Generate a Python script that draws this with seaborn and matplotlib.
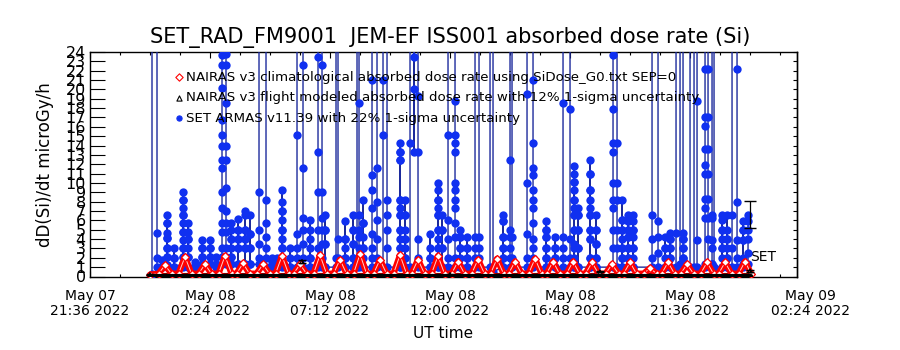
import numpy as np
import pandas as pd
import matplotlib
matplotlib.use("Agg")
import matplotlib.pyplot as plt
import seaborn as sns

# ---------------- data (hours since 2022-05-07 00:00 UT) ----------------
tick_hours = [21.6, 26.4, 31.2, 36.0, 40.8, 45.6, 50.4]
tick_labels = ["May 07\n21:36 2022", "May 08\n02:24 2022", "May 08\n07:12 2022",
               "May 08\n12:00 2022", "May 08\n16:48 2022", "May 08\n21:36 2022",
               "May 09\n02:24 2022"]
y_ticks = list(range(0, 25))

# SET ARMAS samples, grouped by time stamp (values visited in order; >24 = off scale)
blue_col_t = [24.08, 24.28, 24.48, 24.68, 24.96, 25.32, 25.52, 25.80, 26.08, 26.40,
              26.64, 26.88, 27.04, 27.24, 27.52, 27.80, 28.00, 28.36, 28.64, 28.88,
              29.08, 29.28, 29.60, 29.88, 30.12, 30.40, 30.72, 30.88, 31.00, 31.44,
              31.52, 31.80, 32.12, 32.28, 32.36, 32.52, 32.88, 33.08, 33.32, 33.48,
              34.00, 34.20, 34.40, 34.56, 34.72, 35.20, 35.52, 35.68, 35.92, 36.20,
              36.40, 36.68, 37.00, 37.16, 37.60, 37.72, 38.12, 38.40, 38.48, 39.08,
              39.32, 39.84, 40.20, 40.52, 40.80, 40.96, 41.12, 41.60, 41.84, 42.52,
              42.68, 42.88, 43.12, 43.32, 44.08, 44.32, 44.60, 44.80, 45.04, 45.20,
              45.32, 45.60, 45.76, 45.88, 46.20, 46.32, 46.48, 46.56, 46.88, 47.08,
              47.28, 47.48, 47.72, 47.92]
blue_col_v = [
    [0.3, 30], [30, 4.6, 2.0, 1.0], [1.0, 1.8, 1.0],
    [1.2, 2.1, 3.0, 4.1, 4.6, 5.7, 6.6, 5.7, 4.1, 3.0, 2.1, 1.2],
    [1.0, 2.0, 3.0, 2.0, 1.0],
    [1.4, 2.1, 3.0, 3.9, 4.8, 5.7, 6.6, 7.3, 8.2, 9.0, 8.2, 6.6, 4.8, 3.0, 2.1, 1.0],
    [1.0, 2.1, 3.0, 4.0, 4.8, 5.7, 4.0, 2.1, 1.0], [1.0, 1.5, 1.0],
    [1.3, 2.1, 3.0, 3.9, 3.0, 2.1, 1.3], [1.3, 2.1, 3.0, 3.9, 3.0, 2.1, 1.3],
    [1.0, 1.3, 2.1, 1.0],
    [1.3, 2.1, 3.0, 4.8, 5.7, 7.3, 9.0, 11.6, 12.5, 14.0, 15.1, 16.7, 20.2, 22.6, 23.7, 30],
    [30, 23.8, 22.6, 18.5, 14.0, 12.5, 9.5, 7.0, 5.7, 4.8, 3.0, 2.1, 1.3],
    [1.3, 2.1, 3.0, 4.0, 5.0, 5.7, 4.0, 2.1, 1.3],
    [1.3, 3.0, 4.0, 5.0, 6.2, 5.0, 4.0, 3.0, 1.3],
    [1.3, 3.0, 4.0, 5.0, 6.6, 7.0, 5.0, 4.0, 3.0, 1.3],
    [1.3, 3.0, 4.5, 6.6, 4.5, 3.0, 1.3],
    [1.3, 2.0, 3.5, 5.0, 9.0, 30], [30, 8.2, 5.7, 4.2, 3.0, 2.0, 1.0],
    [1.0, 1.6, 2.0, 1.0], [1.0, 2.0, 1.2],
    [1.0, 2.0, 3.0, 4.0, 5.0, 6.0, 7.0, 8.0, 9.2, 7.0, 5.0, 3.0, 1.3],
    [1.0, 2.0, 3.0, 1.0],
    [1.0, 2.0, 3.0, 4.5, 15.1, 30], [30, 22.6, 11.6, 6.3, 5.0, 3.5, 2.0, 1.0],
    [1.0, 2.0, 3.0, 5.0, 6.0, 4.0, 2.0, 1.0],
    [1.0, 3.0, 5.0, 9.0, 13.3, 23.5, 30], [30, 22.6, 9.0, 6.3, 5.0, 3.5, 2.0, 1.0],
    [1.0, 3.5, 5.0, 6.6, 5.0, 3.5, 1.0],
    [1.0, 2.0, 30], [30, 4.0, 2.0, 1.0],
    [1.0, 2.0, 3.0, 4.0, 5.9, 4.0, 2.0, 1.0],
    [1.0, 2.0, 3.5, 5.0, 6.6, 5.0, 3.5, 2.0, 1.0],
    [1.0, 30], [30, 18.5, 6.6, 5.0, 4.2, 3.0, 2.0, 1.0],
    [1.0, 2.0, 3.0, 4.2, 5.7, 8.2, 5.7, 3.0, 1.0],
    [1.0, 2.0, 3.0, 4.5, 7.3, 9.2, 10.8, 21.0, 30], [30, 11.6, 8.0, 6.0, 4.0, 2.0, 1.0],
    [1.0, 15.1, 21.0, 30], [30, 8.2, 6.6, 5.0, 3.0, 1.0],
    [1.0, 2.0, 3.0, 4.0, 5.0, 6.6, 7.3, 8.2, 12.5, 13.3, 14.3, 13.3, 12.5, 8.2, 6.6, 5.0, 3.0, 1.0],
    [1.0, 2.0, 3.0, 4.0, 5.0, 6.6, 8.2, 6.6, 4.0, 2.0, 1.0],
    [1.0, 14.3, 30], [30, 23.5, 20.0, 13.3, 30], [30, 19.3, 13.3, 4.0, 2.0, 1.0],
    [1.0, 2.0, 3.0, 4.5, 2.0, 1.0],
    [1.0, 2.0, 3.0, 4.0, 5.0, 6.6, 7.3, 8.2, 9.2, 10.0, 8.2, 6.6, 5.0, 3.0, 1.0],
    [1.0, 3.0, 5.0, 6.6, 5.0, 3.0, 1.0],
    [1.0, 2.0, 4.0, 6.0, 15.1, 30],
    [30, 18.8, 15.1, 14.3, 13.3, 10.0, 9.2, 8.2, 7.3, 5.7, 4.2, 2.0, 1.0],
    [1.0, 2.0, 3.0, 4.2, 5.0, 4.2, 3.0, 1.0], [1.0, 2.0, 3.0, 4.2, 3.0, 2.0, 1.0],
    [1.0, 2.0, 3.0, 4.2, 30], [30, 4.2, 3.0, 2.0, 1.0],
    [1.0, 30], [30, 0.5],
    [1.0, 2.0, 3.0, 4.2, 5.9, 6.6, 5.9, 4.2, 3.0, 2.0, 1.0],
    [1.0, 2.0, 3.0, 4.2, 5.0, 12.5, 30], [30, 4.2, 2.0, 1.0],
    [1.0, 2.0, 4.5, 10.0, 19.5, 30],
    [30, 21.0, 14.3, 11.6, 10.8, 9.2, 8.2, 7.3, 5.7, 4.0, 3.0, 2.0, 1.0],
    [1.0, 2.0, 3.0, 4.2, 5.0, 5.9, 5.0, 4.2, 3.0, 2.0, 1.0],
    [1.0, 2.0, 3.0, 4.2, 3.0, 2.0, 1.0],
    [1.0, 2.0, 3.0, 4.2, 18.5, 30], [30, 17.9, 4.0, 2.0, 1.0],
    [1.0, 2.0, 3.5, 5.0, 6.6, 7.3, 8.2, 9.2, 10.1, 11.0, 11.8, 10.1, 8.2, 6.6, 5.0, 3.0, 1.0],
    [1.0, 3.0, 5.0, 6.6, 7.3, 6.6, 5.0, 3.0, 1.0],
    [1.0, 2.0, 4.0, 5.0, 6.6, 7.3, 8.2, 9.2, 11.0, 12.5, 11.0, 9.2, 6.6, 5.0, 4.0, 2.0, 1.0],
    [1.0, 2.0, 3.5, 5.0, 6.6, 5.0, 3.5, 2.0, 1.0],
    [1.0, 3.0, 5.0, 7.3, 8.2, 10.0, 13.3, 14.3, 17.9, 23.7, 30],
    [30, 14.3, 10.0, 8.2, 5.0, 3.0, 1.0],
    [1.0, 2.0, 3.0, 4.0, 5.0, 6.0, 8.2, 6.0, 5.0, 3.0, 2.0, 1.0],
    [1.0, 2.0, 3.0, 4.2, 5.0, 5.9, 6.6, 5.9, 5.0, 4.2, 3.0, 2.0, 1.0],
    [1.0, 2.0, 3.0, 4.2, 5.0, 5.9, 6.6, 5.0, 3.0, 1.0],
    [1.0, 2.0, 4.0, 6.6, 30], [30, 5.9, 4.2, 2.5, 1.0],
    [1.0, 2.0, 3.0, 4.2, 3.0, 1.0],
    [1.0, 2.0, 3.0, 4.0, 4.6, 4.0, 3.0, 2.0, 1.0],
    [1.0, 4.6, 30], [30, 1.3],
    [1.3, 2.0, 3.0, 4.0, 4.6, 4.0, 3.0, 2.0, 30], [30, 1.0],
    [1.0, 30], [30, 18.8, 3.9, 1.0],
    [1.0, 1.3, 6.3, 7.3, 8.3, 11.0, 11.9, 13.6, 16.1, 17.0, 22.2, 30],
    [30, 22.2, 17.0, 13.6, 11.0, 8.3, 6.3, 4.0, 1.3],
    [1.3, 3.0, 6.6, 6.3, 3.9, 1.3, 30], [30, 1.0],
    [1.0, 2.0, 3.0, 4.0, 5.0, 6.0, 6.6, 5.0, 3.0, 1.0],
    [1.0, 2.0, 3.0, 4.0, 5.0, 6.6, 4.0, 2.0, 1.0],
    [1.0, 3.0, 6.6, 30], [30, 22.2, 8.0, 3.9, 2.0, 1.0],
    [1.0, 2.0, 3.9, 5.0, 5.9, 5.0, 3.9, 1.3],
    [1.3, 2.5, 4.0, 5.0, 5.9, 6.6],
]
set_err_frac = 0.22

# NAIRAS climatological (red diamonds)
red_t = [24.00,
         24.34, 24.60, 24.86, 25.14, 25.40, 25.66, 25.94, 26.20, 26.46, 26.74, 27.00, 27.26,
         27.46, 27.72, 27.98, 28.26, 28.52, 28.78, 29.02, 29.28, 29.54, 29.74, 30.00, 30.26,
         30.54, 30.80, 31.06, 31.34, 31.60, 31.86, 32.14, 32.40, 32.66, 32.94, 33.20, 33.46,
         33.74, 34.00, 34.26, 34.46, 34.72, 34.98, 35.26, 35.52, 35.78, 36.06, 36.32, 36.58,
         36.86, 37.12, 37.38, 37.62, 37.88, 38.14, 38.34, 38.60, 38.86, 39.14, 39.40, 39.66,
         39.86, 40.12, 40.38, 40.66, 40.92, 41.18, 41.42, 41.68, 41.94, 42.22, 42.48, 42.74,
         42.94, 43.20, 43.46, 43.74, 44.00, 44.26, 44.46, 44.72, 44.98, 45.22, 45.48, 45.74,
         46.02, 46.28, 46.54, 46.74, 47.00, 47.26, 47.54, 47.80, 48.04]
red_v = [0.2,
         0.3, 1.2, 0.3, 0.3, 2.1, 0.3, 0.3, 1.3, 0.3, 0.3, 2.2, 0.3,
         0.3, 1.4, 0.3, 0.3, 1.3, 0.3, 0.3, 2.2, 0.3, 0.3, 1.3, 0.3,
         0.3, 2.3, 0.3, 0.3, 1.8, 0.3, 0.3, 2.4, 0.3, 0.3, 1.8, 0.3,
         0.3, 2.3, 0.3, 0.3, 1.8, 0.3, 0.3, 2.2, 0.3, 0.3, 1.6, 0.3,
         0.3, 1.8, 0.3, 0.3, 1.9, 0.3, 0.3, 1.6, 0.3, 0.3, 1.9, 0.3,
         0.3, 1.6, 0.3, 0.3, 1.6, 0.3, 0.3, 1.5, 0.3, 0.3, 1.3, 0.3,
         0.3, 1.5, 0.3, 0.3, 0.9, 0.3, 0.3, 1.5, 0.3, 0.3, 1.3, 0.3,
         0.3, 1.5, 0.3, 0.3, 1.5, 0.3, 0.3, 1.6, 0.3]

# NAIRAS flight modeled (black triangles) with 12% uncertainty
flight_t = [24.00, 30.08, 36.00, 42.00, 48.00]
flight_v = [0.2, 1.6, 0.2, 0.5, 0.6]
flight_base_t = [24.00, 48.05]
flight_base_v = [0.05, 0.05]
flight_err_frac = 0.12

# ---------------- build tables ----------------
bt, bv = [], []
for t, vals in zip(blue_col_t, blue_col_v):
    for v in vals:
        bt.append(t)
        bv.append(v)
blue = pd.DataFrame({"t": bt, "v": bv})
red = pd.DataFrame({"t": red_t, "v": red_v})
flight = pd.DataFrame({"t": flight_t, "v": flight_v})
base = pd.DataFrame({"t": flight_base_t, "v": flight_base_v})

# ---------------- figure ----------------
sns.set_theme(style="white")
plt.rcParams["font.family"] = ["Liberation Sans Narrow", "DejaVu Sans"]
plt.rcParams["axes.linewidth"] = 1.0
for k in ["text.color", "axes.labelcolor", "xtick.color", "ytick.color"]:
    plt.rcParams[k] = "black"

fig = plt.figure(figsize=(9, 3.5), dpi=100)
ax = fig.add_axes([0.1, 0.21, 0.7856, 0.6414])

LINE_BLUE = "#1c2a9c"
MARK_BLUE = "#1030f0"

sns.lineplot(data=blue, x="t", y="v", sort=False, estimator=None, color=LINE_BLUE,
             lw=1.0, ax=ax, zorder=3)
sns.scatterplot(data=blue, x="t", y="v", color=MARK_BLUE, s=36, marker="o",
                edgecolor=MARK_BLUE, linewidth=0, ax=ax, zorder=4)

ax.plot(base["t"], base["v"] + 0.2, color="#8b0000", lw=1.5, zorder=5)
sns.lineplot(data=red, x="t", y="v", sort=False, estimator=None, color="#ff0000",
             lw=4.5, ax=ax, zorder=5)
sns.lineplot(data=red, x="t", y="v", sort=False, estimator=None, color="#ffd0d0",
             lw=0.7, ax=ax, zorder=6)
sns.scatterplot(data=red, x="t", y="v", marker="D", s=16, facecolor="white",
                edgecolor="#ff0000", linewidth=0.9, ax=ax, zorder=6)

sns.lineplot(data=base, x="t", y="v", sort=False, estimator=None, color="black",
             lw=3.0, ax=ax, zorder=7)
ax.errorbar(flight["t"], flight["v"], yerr=flight["v"] * flight_err_frac, fmt="none",
            ecolor="black", elinewidth=0.9, capsize=3, zorder=8)
sns.scatterplot(data=flight, x="t", y="v", marker="^", s=10, facecolor="none",
                edgecolor="black", linewidth=0.7, ax=ax, zorder=8)

# SET uncertainty on the last sample
last_t, last_v = blue_col_t[-1], blue_col_v[-1][-1]
ax.errorbar([last_t + 0.08], [last_v], yerr=[last_v * set_err_frac], fmt="none",
            ecolor="black", elinewidth=0.9, capsize=4, zorder=8)
ax.text(last_t + 0.1, 2.1, "SET", fontsize=10, ha="left", va="center", color="black")

# axes
ax.set_xlim(21.6, 21.6 + 707 / 25)
ax.set_ylim(0, 24)
ax.set_xticks(tick_hours[:-1])
ax.set_xticklabels(tick_labels[:-1], fontsize=10, linespacing=1.05)
ax.set_xticks(np.arange(21.6, 49.9, 1.2), minor=True)
ax.tick_params(axis="x", which="major", direction="in", length=4.5, width=0.8,
               top=True, bottom=True, pad=9)
ax.tick_params(axis="x", which="minor", direction="in", length=2.5, width=0.8,
               top=True, bottom=True)
ax.annotate(tick_labels[-1], xy=(tick_hours[-1], 0), xycoords=("data", "axes fraction"),
            xytext=(0, -9), textcoords="offset points", ha="center", va="top",
            fontsize=10, linespacing=1.05, annotation_clip=False)

ax.set_yticks(y_ticks)
ax.set_yticklabels([str(v) for v in y_ticks], fontsize=11.5)
ax.tick_params(axis="y", which="major", direction="in", length=10.8, width=0.8,
               left=True, right=False, pad=3)
sec = ax.secondary_yaxis("right")
sec.set_yticks(y_ticks)
sec.set_yticklabels([])
sec.tick_params(direction="in", length=3, width=0.8)

for s in ax.spines.values():
    s.set_color("black")
    s.set_linewidth(1.0)
ax.grid(False)

ax.set_xlabel("UT time", fontsize=11, labelpad=6)
ax.set_ylabel("dD(Si)/dt microGy/h", fontsize=12, labelpad=8)

fig.text(0.5, (350 - 38) / 350, "SET_RAD_FM9001  JEM-EF ISS001 absorbed dose rate (Si)",
         ha="center", va="center", fontsize=15)

# legend written in the plot area
leg_items = [("D", "white", "#ff0000",
              "NAIRAS v3 climatological absorbed dose rate using SiDose_G0.txt SEP=0"),
             ("^", "white", "black",
              "NAIRAS v3 flight modeled absorbed dose rate with 12% 1-sigma uncertainty"),
             ("o", MARK_BLUE, MARK_BLUE,
              "SET ARMAS v11.39 with 22% 1-sigma uncertainty")]
for i, (mk, fc, ec, txt) in enumerate(leg_items):
    yy = 1 - (77 + 20.5 * i - 52) / 224.5
    ax.scatter([(179 - 90) / 707], [yy], marker=mk, s=14, facecolor=fc, edgecolor=ec,
               linewidth=0.8, transform=ax.transAxes, zorder=10, clip_on=False)
    ax.text((186 - 90) / 707, yy, txt, transform=ax.transAxes, fontsize=9.6,
            ha="left", va="center", zorder=10)

fig.savefig("out.png", dpi=100)
